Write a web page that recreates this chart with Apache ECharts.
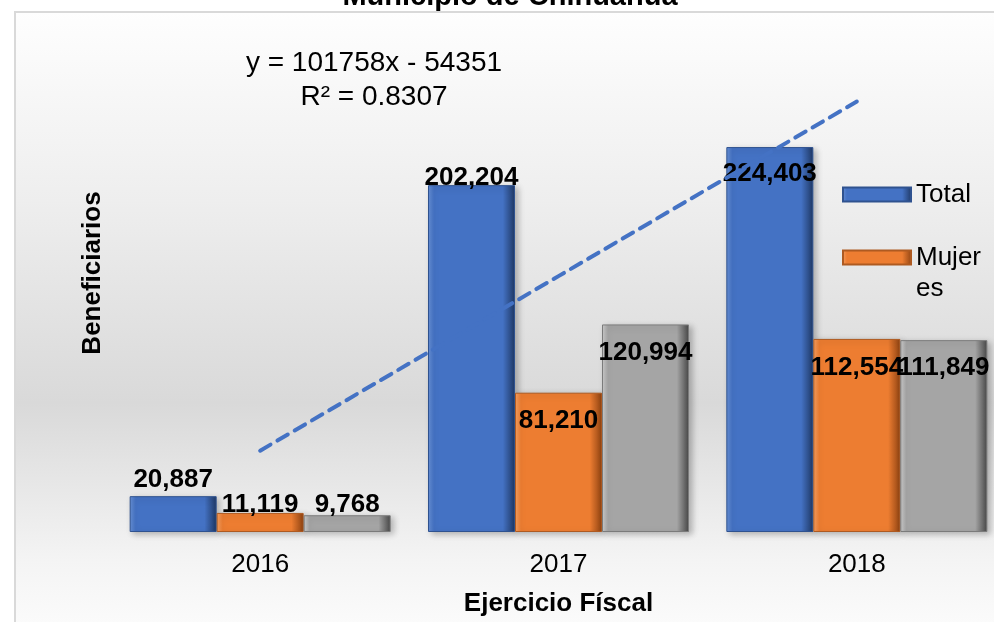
<!DOCTYPE html>
<html>
<head>
<meta charset="utf-8">
<title>Beneficiarios - Municipio de Chihuahua</title>
<script src="https://cdn.jsdelivr.net/npm/echarts@6/dist/echarts.min.js"></script>
<style>
html, body { margin: 0; padding: 0; background: #fff; overflow: hidden; }
/* la grafica original queda recortada por la derecha */
#chart { width: 1012px; height: 622px; }
</style>
</head>
<body>
<div id="chart"></div>
<script>
// datos
const years = ['2016', '2017', '2018'];
const total = [20887, 202204, 224403];
const mujeres = [11119, 81210, 112554];
const hombres = [9768, 120994, 111849];

// posicion de etiquetas (como quedaron en Excel)
const labelPos = {
    Total: [['top', 3], ['top', -6], ['insideTop', 14]],
    Mujeres: [['top', -5], ['insideTop', 15], ['insideTop', 16]],
    Hombres: [['top', -3], ['insideTop', 15], ['insideTop', 15]]
};

const FONT = 'Arial, "Liberation Sans", sans-serif';

// linea de tendencia lineal sobre Total
function linearFit(ys) {
    const n = ys.length;
    const xs = ys.map((_, i) => i + 1);
    const mx = xs.reduce((a, b) => a + b) / n;
    const my = ys.reduce((a, b) => a + b) / n;
    let sxy = 0, sxx = 0;
    xs.forEach((x, i) => { sxy += (x - mx) * (ys[i] - my); sxx += (x - mx) * (x - mx); });
    const slope = sxy / sxx;
    const intercept = my - slope * mx;
    let ssRes = 0, ssTot = 0;
    ys.forEach((y, i) => {
        const f = slope * xs[i] + intercept;
        ssRes += (y - f) * (y - f);
        ssTot += (y - my) * (y - my);
    });
    return { slope, intercept, r2: 1 - ssRes / ssTot, line: xs.map(x => slope * x + intercept) };
}
const fit = linearFit(total);
const eqText = 'y = ' + Math.round(fit.slope) + 'x ' + (fit.intercept < 0 ? '- ' : '+ ') +
    Math.abs(Math.round(fit.intercept)) + '\nR² = ' + fit.r2.toFixed(4);

function bevel(light, base, dark) {
    return {
        type: 'linear', x: 0, y: 0, x2: 1, y2: 0,
        colorStops: [
            { offset: 0, color: light },
            { offset: 0.07, color: base },
            { offset: 0.86, color: base },
            { offset: 1, color: dark }
        ]
    };
}

function barSeries(name, values, fill, border) {
    return {
        name: name,
        type: 'bar',
        barWidth: 87,
        barGap: '0%',
        data: values.map((v, i) => ({
            value: v,
            label: { position: labelPos[name][i][0], distance: labelPos[name][i][1] }
        })),
        itemStyle: {
            color: fill,
            borderColor: border,
            borderWidth: 1,
            shadowColor: 'rgba(0,0,0,0.25)',
            shadowBlur: 6,
            shadowOffsetX: 3,
            shadowOffsetY: 2
        },
        label: {
            show: true,
            fontFamily: FONT,
            fontSize: 26,
            fontWeight: 'bold',
            color: '#000',
            formatter: p => p.value.toLocaleString('en-US')
        }
    };
}

const chart = echarts.init(document.getElementById('chart'));
chart.setOption({
    backgroundColor: '#fff',
    animation: false,
    graphic: [
        {
            type: 'rect', z: -10, silent: true,
            shape: { x: 15, y: 12, width: 1010, height: 630 },
            style: {
                fill: {
                    type: 'linear', x: 0, y: 0, x2: 0, y2: 1,
                    colorStops: [
                        { offset: 0, color: '#fefefe' },
                        { offset: 0.3, color: '#eeeeee' },
                        { offset: 0.62, color: '#d9d9d9' },
                        { offset: 0.87, color: '#f4f4f4' },
                        { offset: 1, color: '#fdfdfd' }
                    ]
                },
                stroke: '#d9d9d9',
                lineWidth: 2
            }
        },
        {
            type: 'text', x: 510, y: -3,
            style: {
                text: 'Municipio de Chihuahua',
                font: 'bold 29px ' + FONT,
                fill: '#000',
                align: 'center',
                verticalAlign: 'middle'
            }
        },
        {
            type: 'text', x: 93, y: 273, rotation: Math.PI / 2,
            style: {
                text: 'Beneficiarios',
                font: 'bold 26px ' + FONT,
                fill: '#000',
                align: 'center',
                verticalAlign: 'middle'
            }
        },
        {
            type: 'text', x: 374, y: 80, z: 10,
            style: {
                text: eqText,
                font: '28px ' + FONT,
                lineHeight: 34,
                fill: '#000',
                align: 'center',
                verticalAlign: 'middle'
            }
        }
    ],
    legend: {
        orient: 'vertical',
        left: 842,
        top: 179,
        padding: 0,
        itemGap: 1,
        itemWidth: 68,
        itemHeight: 14,
        icon: 'rect',
        data: ['Total', 'Mujeres'],
        formatter: name => name === 'Mujeres' ? '\nMujer\nes' : name,
        textStyle: { fontFamily: FONT, fontSize: 26, lineHeight: 31, color: '#000' }
    },
    grid: { left: 111, top: 86, width: 895, height: 448 },
    xAxis: {
        type: 'category',
        data: years,
        axisLine: { show: false },
        axisTick: { show: false },
        axisLabel: { fontFamily: FONT, fontSize: 26, color: '#000', margin: 20 },
        name: 'Ejercicio Físcal',
        nameLocation: 'middle',
        nameGap: 59,
        nameTextStyle: { fontFamily: FONT, fontSize: 26, fontWeight: 'bold', color: '#000' }
    },
    yAxis: {
        type: 'value',
        min: 0,
        max: 260000,
        show: false
    },
    series: [
        barSeries('Total', total, bevel('#6790d6', '#4472c4', '#1f3864'), '#2f528f'),
        barSeries('Mujeres', mujeres, bevel('#f7a062', '#ed7d31', '#8f4312'), '#ae5a21'),
        barSeries('Hombres', hombres, bevel('#cdcdcd', '#a5a5a5', '#474747'), '#7b7b7b'),
        {
            name: 'Lineal (Total)',
            type: 'line',
            data: fit.line,
            symbol: 'none',
            clip: false,
            z: 5,
            lineStyle: { color: '#4472c4', width: 4, type: [12, 8], cap: 'round' }
        }
    ]
});
</script>
</body>
</html>
